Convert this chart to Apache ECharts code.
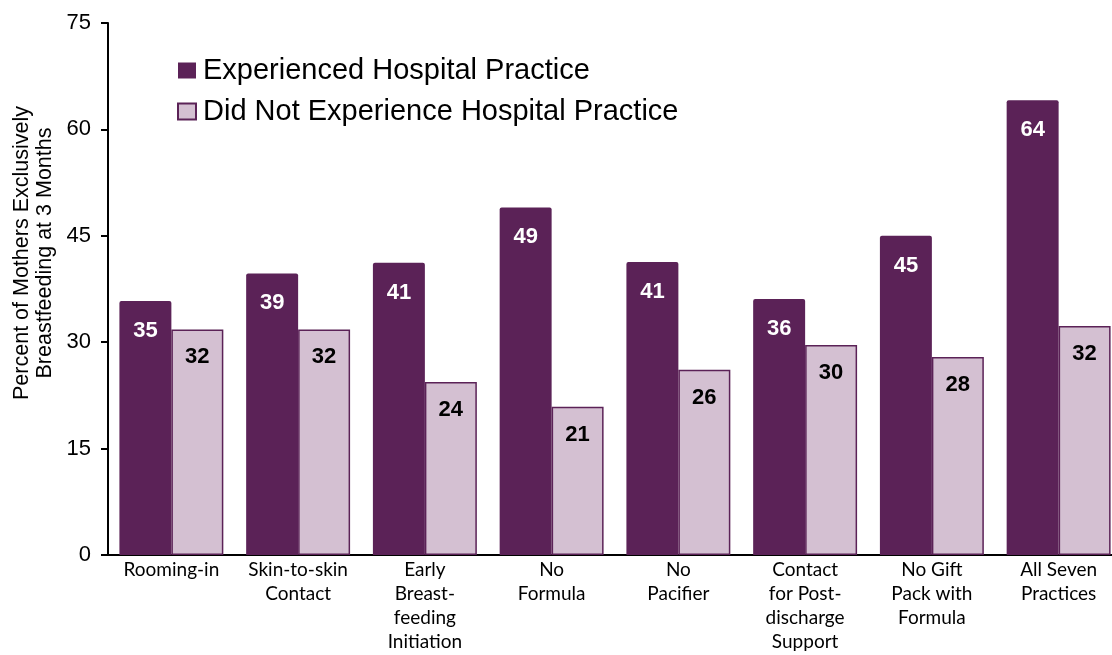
<!DOCTYPE html>
<html>
<head>
<meta charset="utf-8">
<title>Hospital practices and exclusive breastfeeding</title>
<script src="https://cdn.jsdelivr.net/npm/echarts@6/dist/echarts.min.js"></script>
<style>
  html, body { margin: 0; padding: 0; background: #fff; }
  #main { width: 1112px; height: 655px; }
</style>
</head>
<body>
<div id="main"></div>
<script>
var categories = [
  'Rooming-in',
  'Skin-to-skin\nContact',
  'Early\nBreast-\nfeeding\nInitiation',
  'No\nFormula',
  'No\nPacifier',
  'Contact\nfor Post-\ndischarge\nSupport',
  'No Gift\nPack with\nFormula',
  'All Seven\nPractices'
]
// bar heights
var experienced = [35.8, 39.7, 41.2, 49.0, 41.3, 36.1, 45.0, 64.1]
var notExperienced = [31.8, 31.8, 24.4, 20.9, 26.1, 29.6, 27.9, 32.3]
// the numbers printed on the bars
var experiencedLabels = [35, 39, 41, 49, 41, 36, 45, 64]
var notExperiencedLabels = [32, 32, 24, 21, 26, 30, 28, 32]
var yTicks = [0, 15, 30, 45, 60, 75]

var seriesNames = ['Experienced Hospital Practice', 'Did Not Experience Hospital Practice']
var dark = '#5b2257'
var light = '#d4c0d2'

var myChart = echarts.init(document.getElementById('main'))
var option = {
  backgroundColor: '#ffffff',
  animation: false,
  textStyle: { fontFamily: 'Liberation Sans, Arial, sans-serif' },
  grid: {
    left: 108,
    top: 23,
    width: 1014,
    height: 532,
    outerBoundsMode: 'none'
  },
  legend: {
    orient: 'vertical',
    left: 172,
    top: 51,
    itemWidth: 18,
    itemHeight: 16,
    itemGap: 12,
    icon: 'rect',
    textStyle: {
      fontSize: 29,
      color: '#000',
      padding: [0, 0, 0, 2]
    },
    data: seriesNames
  },
  graphic: [{
    type: 'text',
    x: 34,
    y: 253,
    rotation: Math.PI / 2,
    style: {
      text: 'Percent of Mothers Exclusively\nBreastfeeding at 3 Months',
      font: '21.5px "Liberation Sans", Arial, sans-serif',
      fill: '#000',
      align: 'center',
      verticalAlign: 'middle',
      lineHeight: 23
    }
  }],
  xAxis: {
    type: 'category',
    data: categories,
    axisLine: { lineStyle: { color: '#000', width: 2 } },
    axisTick: { show: false },
    axisLabel: {
      interval: 0,
      margin: 3,
      fontFamily: 'Lato, sans-serif',
      fontSize: 19,
      lineHeight: 24,
      color: '#000'
    }
  },
  yAxis: {
    type: 'value',
    min: yTicks[0],
    max: yTicks[yTicks.length - 1],
    interval: 15,
    splitLine: { show: false },
    axisLine: { show: true, lineStyle: { color: '#000', width: 2 } },
    axisTick: { show: true, length: 7, lineStyle: { color: '#000', width: 2 } },
    axisLabel: {
      margin: 17,
      fontSize: 22,
      color: '#000'
    }
  },
  series: [{
    name: seriesNames[0],
    type: 'bar',
    barGap: '0%',
    barCategoryGap: '18%',
    itemStyle: {
      color: dark,
      borderRadius: [2, 2, 0, 0]
    },
    label: {
      show: true,
      position: 'insideTop',
      distance: 19,
      color: '#fff',
      fontWeight: 'bold',
      fontSize: 22,
      formatter: function (p) { return experiencedLabels[p.dataIndex] }
    },
    data: experienced
  }, {
    name: seriesNames[1],
    type: 'bar',
    barGap: '0%',
    barCategoryGap: '18%',
    itemStyle: {
      color: light,
      borderColor: dark,
      borderWidth: 1.5
    },
    label: {
      show: true,
      position: 'insideTop',
      distance: 17,
      color: '#000',
      fontWeight: 'bold',
      fontSize: 22,
      formatter: function (p) { return notExperiencedLabels[p.dataIndex] }
    },
    data: notExperienced
  }]
}
option && myChart.setOption(option)
</script>
</body>
</html>
